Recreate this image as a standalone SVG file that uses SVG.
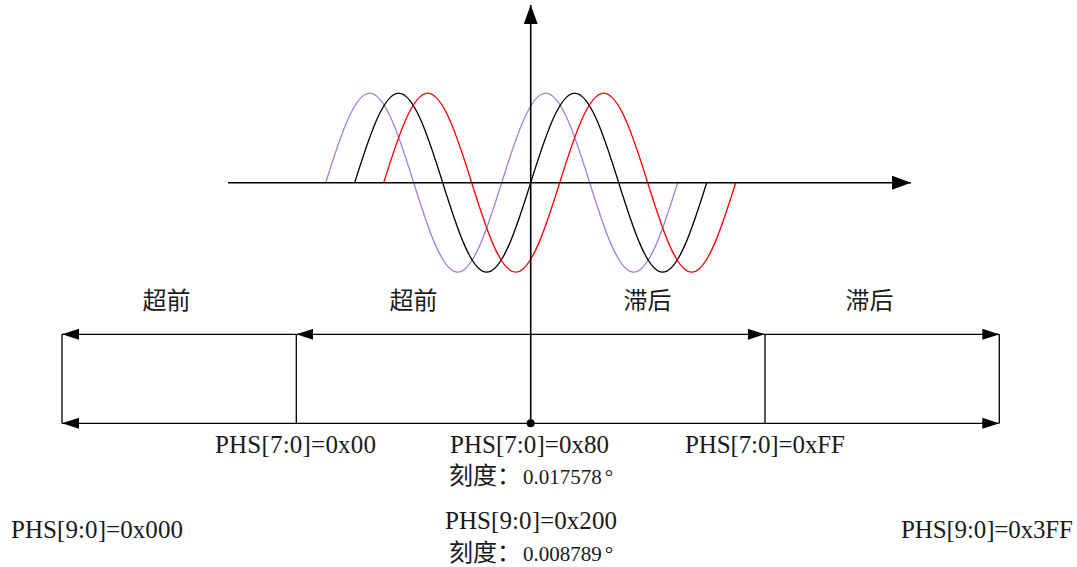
<svg xmlns="http://www.w3.org/2000/svg" width="1077" height="567" viewBox="0 0 1077 567">
<style>
.ln{stroke:#000;stroke-width:1.3;fill:none}
.ax{stroke:#000;stroke-width:1.6;fill:none}
.wave{fill:none;stroke-width:1.3}
.lbl{font-family:"Liberation Serif","Noto Sans CJK SC",serif;font-size:25px;fill:#1a1a1a}
.deg{font-family:"Liberation Serif","Noto Sans CJK SC",serif;font-size:21px;fill:#1a1a1a}
.big{font-size:24px}
.cjk{font-family:"Noto Sans CJK SC",sans-serif;font-size:24px;fill:#1a1a1a;text-anchor:middle}
</style>
<defs>
<marker id="arr" markerUnits="userSpaceOnUse" markerWidth="17" markerHeight="11" refX="17" refY="5.5" orient="auto-start-reverse">
<path d="M0,0 L17,5.5 L0,11 z" fill="#000"/>
</marker>
<marker id="axh" markerUnits="userSpaceOnUse" markerWidth="19" markerHeight="14" refX="19" refY="7" orient="auto">
<path d="M0,0 L19,7 L0,14 z" fill="#000"/>
</marker>
<path id="sine" d="M0,0 c14.34,-45.8 28.54,-89.5 44,-89.5 c15.46,0 29.66,43.7 44,89.5 c14.34,45.8 28.54,89.5 44,89.5 c15.46,0 29.66,-43.7 44,-89.5 c14.34,-45.8 28.54,-89.5 44,-89.5 c15.46,0 29.66,43.7 44,89.5 c14.34,45.8 28.54,89.5 44,89.5 c15.46,0 29.66,-43.7 44,-89.5"/>
</defs>
<g id="waves">
<use href="#sine" class="wave" stroke="#a57fd8" transform="translate(325.7,182.7)"/>
<use href="#sine" class="wave" stroke="#000" transform="translate(354.7,182.7)"/>
<use href="#sine" class="wave" stroke="#ff0000" transform="translate(383.7,182.7)"/>
</g>
<g id="axes">
<line class="ax" x1="228" y1="182.7" x2="911" y2="182.7" marker-end="url(#axh)"/>
<line class="ax" x1="530.7" y1="423.3" x2="530.7" y2="5" marker-end="url(#axh)"/>
<circle cx="530.7" cy="423.3" r="4" fill="#000"/>
</g>
<g id="connectors">
<line class="ln" x1="296.3" y1="334.3" x2="62" y2="334.3" marker-end="url(#arr)"/>
<line class="ln" x1="296.3" y1="334.3" x2="765" y2="334.3" marker-start="url(#arr)" marker-end="url(#arr)"/>
<line class="ln" x1="765" y1="334.3" x2="999.3" y2="334.3" marker-end="url(#arr)"/>
<line class="ln" x1="62" y1="423.3" x2="999.3" y2="423.3" marker-start="url(#arr)" marker-end="url(#arr)"/>
<line class="ln" x1="62" y1="334.3" x2="62" y2="423.3"/>
<line class="ln" x1="296.3" y1="334.3" x2="296.3" y2="423.3"/>
<line class="ln" x1="765" y1="334.3" x2="765" y2="423.3"/>
<line class="ln" x1="999.3" y1="334.3" x2="999.3" y2="423.3"/>
</g>
<g id="region-labels">
<text class="cjk" x="166.5" y="309">超前</text>
<text class="cjk" x="413.5" y="309">超前</text>
<text class="cjk" x="647.5" y="309">滞后</text>
<text class="cjk" x="869.5" y="309">滞后</text>
</g>
<g id="phs-0x00"><text class="lbl" x="215" y="453" textLength="161" lengthAdjust="spacing">PHS[7:0]=0x00</text></g>
<g id="phs-0x80">
<text class="lbl" x="450" y="453" textLength="159" lengthAdjust="spacing">PHS[7:0]=0x80</text>
<text class="deg" x="449" y="484"><tspan class="big">刻度：</tspan><tspan x="523">0.017578</tspan><tspan dx="3">°</tspan></text>
</g>
<g id="phs-0x200">
<text class="lbl" x="445" y="529" textLength="172" lengthAdjust="spacing">PHS[9:0]=0x200</text>
<text class="deg" x="449" y="561"><tspan class="big">刻度：</tspan><tspan x="523">0.008789</tspan><tspan dx="3">°</tspan></text>
</g>
<g id="phs-0xFF"><text class="lbl" x="685" y="453" textLength="160" lengthAdjust="spacing">PHS[7:0]=0xFF</text></g>
<g id="phs-0x000"><text class="lbl" x="11" y="538" textLength="172" lengthAdjust="spacing">PHS[9:0]=0x000</text></g>
<g id="phs-0x3FF"><text class="lbl" x="901" y="538" textLength="172" lengthAdjust="spacing">PHS[9:0]=0x3FF</text></g>
</svg>
